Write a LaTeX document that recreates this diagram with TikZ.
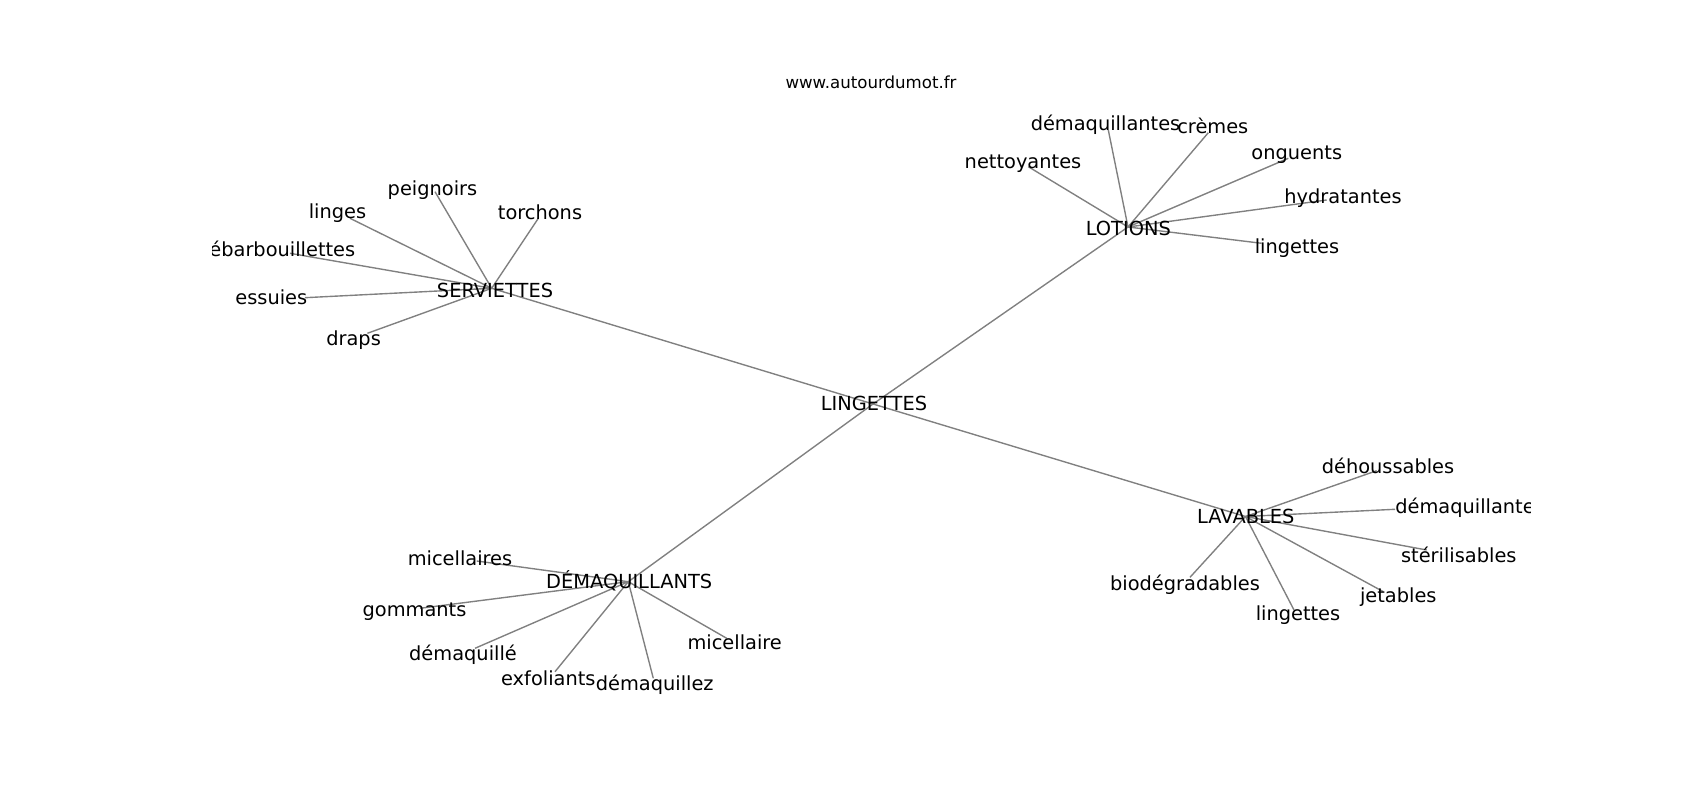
\documentclass[tikz,border=0pt]{standalone}
\usepackage{fontspec}
\setmainfont{DejaVu Sans}
\usetikzlibrary{positioning}
\tikzset{
    word/.style = {inner sep=0pt, anchor=mid, yshift=-2.4pt, font=\fontsize{14}{16}\selectfont},
    hub/.style = {word},
    titre/.style = {inner sep=0pt, anchor=mid, yshift=-1.5pt, font=\fontsize{12}{14}\selectfont},
    edgeg/.style = {-, line width=1pt, black!50},
}
\begin{document}
\begin{tikzpicture}[x=0.01in, y=-0.01in]
\useasboundingbox (0, 0) rectangle (1700, 800);
%
\node[titre] at (871, 83) (titre) {www.autourdumot.fr};
%
\begin{scope}
\clip (212.5, 96) rectangle (1530, 712);
% points
\coordinate (l) at (873, 404);
\coordinate (s) at (491.7, 288.3);
\coordinate (o) at (1128, 227);
\coordinate (v) at (1245.5, 516.5);
\coordinate (d) at (628.3, 581.7);
%
\coordinate (s1) at (435, 191.7);
\coordinate (s2) at (350, 218.3);
\coordinate (s3) at (538.3, 218.3);
\coordinate (s4) at (290, 253.3);
\coordinate (s5) at (305, 297.7);
\coordinate (s6) at (367.4, 333.3);
%
\coordinate (o1) at (1108.3, 130);
\coordinate (o2) at (1208.3, 132.7);
\coordinate (o3) at (1028.3, 166.7);
\coordinate (o4) at (1288.3, 158.3);
\coordinate (o5) at (1326.7, 200);
\coordinate (o6) at (1261.7, 243.3);
%
\coordinate (v1) at (1376.7, 470.7);
\coordinate (v2) at (1395, 509.3);
\coordinate (v3) at (1426.7, 550);
\coordinate (v4) at (1190, 577.3);
\coordinate (v5) at (1383.3, 591.7);
\coordinate (v6) at (1294, 610);
%
\coordinate (d1) at (476.7, 561);
\coordinate (d2) at (420, 608.3);
\coordinate (d3) at (475, 648.3);
\coordinate (d4) at (555, 671.7);
\coordinate (d5) at (653.3, 678.3);
\coordinate (d6) at (726.7, 638.3);
%
\draw[edgeg] (l) edge node {} (s);
\draw[edgeg] (l) edge node {} (o);
\draw[edgeg] (l) edge node {} (v);
\draw[edgeg] (l) edge node {} (d);
\foreach \i in {1,...,6} {
  \draw[edgeg] (s) edge node {} (s\i);
  \draw[edgeg] (o) edge node {} (o\i);
  \draw[edgeg] (v) edge node {} (v\i);
  \draw[edgeg] (d) edge node {} (d\i);
}
%
\node[hub] at (874, 403) (lingettes) {LINGETTES};
\node[hub] at (495, 290) (serviettes) {SERVIETTES};
\node[hub] at (1128.3, 228.7) (lotions) {LOTIONS};
\node[hub] at (1245.8, 516.3) (lavables) {LAVABLES};
\node[hub] at (629.2, 581.3) (demaquillants) {DÉMAQUILLANTS};
%
\node[word] at (432.5, 188.3) (peignoirs) {peignoirs};
\node[word] at (337.5, 211.7) (linges) {linges};
\node[word] at (540, 212) (torchons) {torchons};
\node[word, anchor=mid east] at (355.5, 249.3) (debarbouillettes) {débarbouillettes};
\node[word] at (271.3, 297.7) (essuies) {essuies};
\node[word] at (353.6, 338.3) (draps) {draps};
%
\node[word] at (1105.5, 123.3) (odemaquillantes) {démaquillantes};
\node[word] at (1212.8, 126.7) (cremes) {crèmes};
\node[word] at (1023, 161.7) (nettoyantes) {nettoyantes};
\node[word] at (1296.8, 152.7) (onguents) {onguents};
\node[word] at (1343, 196.7) (hydratantes) {hydratantes};
\node[word] at (1297, 246.7) (olingettes) {lingettes};
%
\node[word] at (1388, 466.7) (dehoussables) {déhoussables};
\node[word, anchor=mid west] at (1395, 506.7) (vdemaquillantes) {démaquillantes};
\node[word] at (1458.8, 555) (sterilisables) {stérilisables};
\node[word] at (1185, 583.3) (biodegradables) {biodégradables};
\node[word] at (1398.3, 595) (jetables) {jetables};
\node[word] at (1298, 613.3) (vlingettes) {lingettes};
%
\node[word] at (460, 558.3) (micellaires) {micellaires};
\node[word] at (414.5, 609.3) (gommants) {gommants};
\node[word] at (463, 653.3) (demaquille) {démaquillé};
\node[word] at (548.3, 678.3) (exfoliants) {exfoliants};
\node[word] at (654.7, 683.3) (demaquillez) {démaquillez};
\node[word] at (734.7, 642.3) (micellaire) {micellaire};
\end{scope}
\end{tikzpicture}
\end{document}
